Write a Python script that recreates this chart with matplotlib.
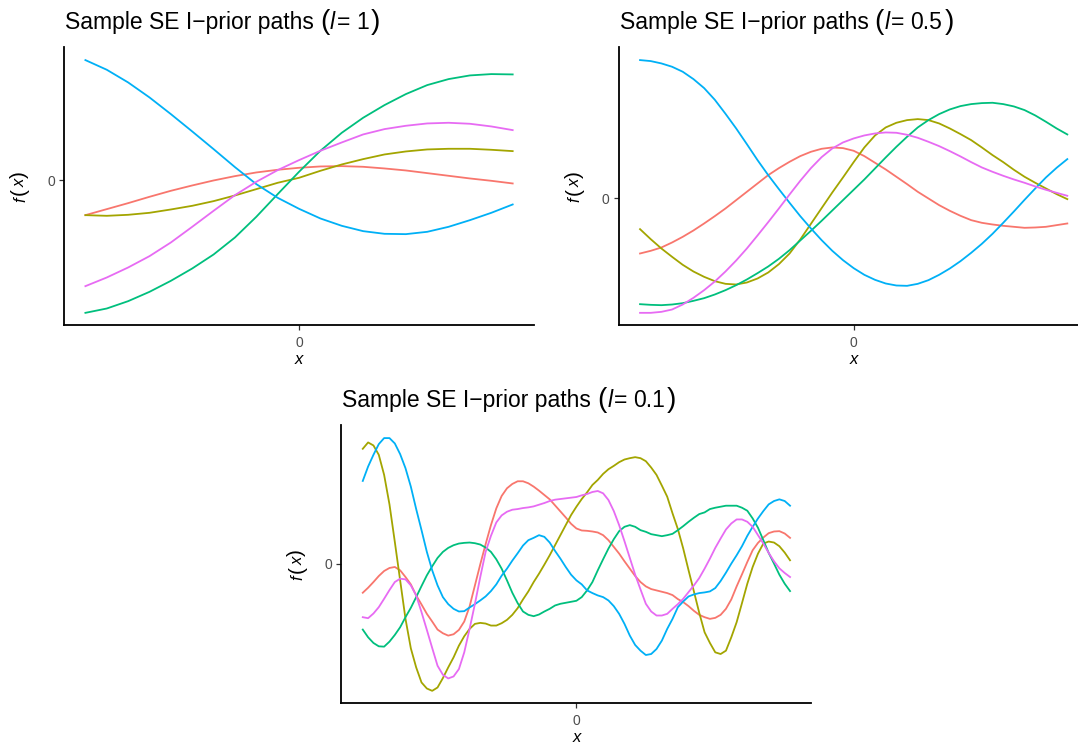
import numpy as np
import matplotlib
matplotlib.use('Agg')
import matplotlib.pyplot as plt
from matplotlib.transforms import ScaledTranslation

plt.rcParams['font.family'] = ['Liberation Sans', 'DejaVu Sans']

# ggplot hue palette, one colour per sample path
colors = ['#F8766D', '#A3A500', '#00BF7D', '#00B0F6', '#E76BF3']

# x grids the paths were read on
x_l1 = np.linspace(-1, 1, 21)
x_l05 = np.linspace(-1, 1, 41)
x_l01 = np.linspace(-1, 1, 81)

# l = 1
l1_red = [-1.05, -0.87, -0.69, -0.50, -0.32, -0.16, -0.01, 0.12, 0.23, 0.31, 0.37,
          0.41, 0.42, 0.40, 0.35, 0.29, 0.21, 0.13, 0.05, -0.02, -0.10]
l1_olive = [-1.05, -1.07, -1.04, -0.98, -0.88, -0.77, -0.63, -0.46, -0.27, -0.08, 0.07,
            0.28, 0.47, 0.63, 0.77, 0.86, 0.92, 0.94, 0.94, 0.91, 0.87]
l1_green = [-3.98, -3.85, -3.63, -3.35, -3.02, -2.65, -2.23, -1.72, -1.10, -0.42, 0.25,
            0.88, 1.42, 1.87, 2.25, 2.58, 2.85, 3.03, 3.14, 3.18, 3.17]
l1_blue = [3.60, 3.31, 2.93, 2.48, 1.98, 1.46, 0.93, 0.39, -0.12, -0.53, -0.86,
           -1.15, -1.37, -1.53, -1.61, -1.62, -1.55, -1.40, -1.20, -0.98, -0.73]
l1_pink = [-3.18, -2.92, -2.62, -2.28, -1.87, -1.40, -0.92, -0.45, -0.05, 0.30, 0.60,
           0.88, 1.13, 1.37, 1.53, 1.63, 1.70, 1.72, 1.69, 1.61, 1.50]

# l = 0.5
l05_red = [-1.65, -1.57, -1.47, -1.32, -1.15, -0.96, -0.75, -0.53, -0.30, -0.05, 0.20,
           0.45, 0.70, 0.91, 1.10, 1.27, 1.40, 1.49, 1.53, 1.51, 1.43,
           1.27, 1.07, 0.87, 0.65, 0.43, 0.20, 0.00, -0.20, -0.37, -0.52,
           -0.65, -0.73, -0.78, -0.82, -0.85, -0.88, -0.87, -0.85, -0.80, -0.75]
l05_olive = [-0.92, -1.22, -1.50, -1.75, -1.99, -2.19, -2.35, -2.48, -2.56, -2.58, -2.52,
             -2.40, -2.22, -1.97, -1.65, -1.23, -0.76, -0.29, 0.18, 0.63, 1.09,
             1.53, 1.89, 2.13, 2.27, 2.35, 2.38, 2.35, 2.25, 2.10, 1.93,
             1.75, 1.53, 1.30, 1.09, 0.86, 0.65, 0.47, 0.30, 0.13, -0.02]
l05_green = [-3.17, -3.19, -3.20, -3.18, -3.14, -3.07, -2.99, -2.88, -2.75, -2.60, -2.43,
             -2.24, -2.04, -1.81, -1.55, -1.26, -0.97, -0.67, -0.36, -0.05, 0.26,
             0.57, 0.90, 1.23, 1.55, 1.85, 2.13, 2.35, 2.53, 2.67, 2.77,
             2.83, 2.86, 2.87, 2.83, 2.76, 2.65, 2.49, 2.30, 2.10, 1.92]
l05_blue = [4.15, 4.12, 4.05, 3.95, 3.80, 3.58, 3.31, 2.96, 2.54, 2.10, 1.63,
            1.15, 0.70, 0.28, -0.13, -0.53, -0.90, -1.25, -1.57, -1.85, -2.09,
            -2.29, -2.44, -2.55, -2.61, -2.62, -2.56, -2.45, -2.29, -2.10, -1.88,
            -1.63, -1.36, -1.06, -0.73, -0.39, -0.04, 0.30, 0.63, 0.92, 1.18]
l05_pink = [-3.43, -3.43, -3.40, -3.33, -3.18, -2.98, -2.75, -2.49, -2.19, -1.86, -1.50,
            -1.11, -0.71, -0.30, 0.12, 0.53, 0.91, 1.24, 1.50, 1.68, 1.80,
            1.89, 1.95, 1.98, 1.97, 1.91, 1.82, 1.70, 1.57, 1.42, 1.26,
            1.09, 0.93, 0.80, 0.68, 0.57, 0.47, 0.36, 0.26, 0.17, 0.08]

# l = 0.1
l01_red = [-0.87, -0.72, -0.55, -0.37, -0.22, -0.13, -0.10, -0.20, -0.40, -0.62,
           -0.95, -1.22, -1.50, -1.73, -1.97, -2.08, -2.15, -2.11, -1.98, -1.73,
           -1.28, -0.65, -0.02, 0.58, 1.15, 1.65, 2.02, 2.25, 2.38, 2.46,
           2.46, 2.40, 2.30, 2.18, 2.05, 1.92, 1.74, 1.56, 1.38, 1.19,
           1.05, 0.99, 0.98, 0.96, 0.93, 0.85, 0.70, 0.50, 0.30, 0.07,
           -0.15, -0.37, -0.55, -0.68, -0.76, -0.80, -0.84, -0.88, -0.94, -1.06,
           -1.15, -1.27, -1.41, -1.53, -1.60, -1.65, -1.62, -1.53, -1.35, -1.07,
           -0.68, -0.32, 0.05, 0.40, 0.62, 0.78, 0.91, 0.96, 0.97, 0.90, 0.77]
l01_olive = [3.43, 3.62, 3.53, 3.25, 2.65, 1.77, 0.65, -0.50, -1.65, -2.53,
             -3.10, -3.55, -3.73, -3.80, -3.70, -3.42, -3.10, -2.80, -2.45, -2.17,
             -1.95, -1.80, -1.77, -1.79, -1.85, -1.85, -1.78, -1.68, -1.53, -1.33,
             -1.07, -0.83, -0.55, -0.30, -0.03, 0.25, 0.55, 0.85, 1.15, 1.45,
             1.70, 1.93, 2.13, 2.35, 2.50, 2.68, 2.82, 2.92, 3.03, 3.11,
             3.15, 3.18, 3.15, 3.06, 2.87, 2.65, 2.33, 2.00, 1.50, 1.03,
             0.45, -0.20, -0.83, -1.47, -2.05, -2.37, -2.65, -2.70, -2.60, -2.20,
             -1.75, -1.18, -0.60, -0.10, 0.30, 0.60, 0.66, 0.63, 0.52, 0.33, 0.10]
l01_green = [-1.97, -2.20, -2.37, -2.47, -2.48, -2.33, -2.13, -1.90, -1.60, -1.32,
             -1.00, -0.67, -0.35, -0.08, 0.17, 0.35, 0.47, 0.55, 0.60, 0.62,
             0.63, 0.61, 0.57, 0.48, 0.35, 0.13, -0.15, -0.50, -0.87, -1.18,
             -1.43, -1.53, -1.57, -1.52, -1.43, -1.35, -1.25, -1.20, -1.17, -1.14,
             -1.11, -1.00, -0.80, -0.55, -0.20, 0.13, 0.45, 0.73, 0.97, 1.10,
             1.15, 1.10, 1.00, 0.95, 0.88, 0.85, 0.82, 0.85, 0.89, 1.00,
             1.12, 1.25, 1.37, 1.48, 1.53, 1.63, 1.67, 1.70, 1.73, 1.73,
             1.73, 1.67, 1.58, 1.35, 1.07, 0.70, 0.32, 0.00, -0.33, -0.60, -0.82]
l01_blue = [2.47, 2.90, 3.25, 3.57, 3.75, 3.75, 3.59, 3.27, 2.85, 2.30,
            1.63, 1.00, 0.35, -0.20, -0.65, -1.00, -1.21, -1.35, -1.43, -1.42,
            -1.31, -1.21, -1.10, -0.98, -0.82, -0.62, -0.36, -0.15, 0.09, 0.31,
            0.54, 0.70, 0.77, 0.85, 0.80, 0.63, 0.38, 0.15, -0.10, -0.33,
            -0.50, -0.62, -0.80, -0.88, -0.95, -1.00, -1.10, -1.27, -1.50, -1.80,
            -2.15, -2.43, -2.60, -2.73, -2.70, -2.55, -2.30, -1.95, -1.65, -1.30,
            -1.13, -0.98, -0.92, -0.88, -0.86, -0.83, -0.73, -0.52, -0.27, 0.00,
            0.25, 0.52, 0.83, 1.10, 1.35, 1.57, 1.77, 1.87, 1.92, 1.87, 1.73]
l01_pink = [-1.60, -1.63, -1.49, -1.30, -1.05, -0.79, -0.55, -0.45, -0.47, -0.65,
            -0.95, -1.45, -1.98, -2.52, -3.05, -3.32, -3.43, -3.37, -3.15, -2.65,
            -1.95, -1.20, -0.40, 0.35, 0.83, 1.23, 1.44, 1.55, 1.61, 1.63,
            1.66, 1.68, 1.71, 1.76, 1.81, 1.87, 1.91, 1.93, 1.95, 1.97,
            1.99, 2.04, 2.08, 2.14, 2.17, 2.10, 1.90, 1.57, 1.15, 0.67,
            0.17, -0.33, -0.77, -1.20, -1.43, -1.55, -1.55, -1.50, -1.35, -1.21,
            -1.05, -0.85, -0.65, -0.43, -0.15, 0.15, 0.47, 0.75, 1.02, 1.20,
            1.32, 1.32, 1.25, 1.10, 0.85, 0.60, 0.32, 0.07, -0.14, -0.28, -0.40]

length_scales = ['1', '0.5', '0.1']

fig = plt.figure(figsize=(10.78, 7.46), dpi=100)
renderer = fig.canvas.get_renderer()


def add_pieces(ax, pieces, x0, y0, dx, dy, vertical=False, center=False):
    # lay out text pieces of mixed size one after another, like plotmath does
    widths = []
    for s, size, style, gap in pieces:
        t = fig.text(0, 0, s, fontsize=size, style=style)
        widths.append(t.get_window_extent(renderer).width / fig.dpi)
        t.remove()
    total = sum(widths) + sum(p[3] for p in pieces[:-1])
    pos = -total / 2 if center else 0.0
    for (s, size, style, gap), w in zip(pieces, widths):
        if vertical:
            off = ScaledTranslation(dx, dy + pos, fig.dpi_scale_trans)
            ax.text(x0, y0, s, fontsize=size, style=style, rotation=90,
                    rotation_mode='anchor', ha='left', va='baseline',
                    transform=ax.transAxes + off)
        else:
            off = ScaledTranslation(dx + pos, dy, fig.dpi_scale_trans)
            ax.text(x0, y0, s, fontsize=size, style=style, ha='left',
                    va='baseline', transform=ax.transAxes + off)
        pos += w + gap


def draw_panel(ax, x, paths, lscale):
    for ys, c in zip(paths, colors):
        ax.plot(x, ys, color=c, lw=1.3)
    ax.margins(x=0.05, y=0.05)
    ax.set_xticks([0])
    ax.set_yticks([0])
    ax.tick_params(length=3.5, width=0.9, color='#333333', labelcolor='#4D4D4D',
                   labelsize=10)
    ax.tick_params(axis='x', pad=4)
    ax.tick_params(axis='y', pad=3)
    for s in ['top', 'right']:
        ax.spines[s].set_visible(False)
    for s in ['left', 'bottom']:
        ax.spines[s].set_linewidth(1.3)

    title = [('Sample SE I\u2212prior paths', 16.5, 'normal', 0.06),
             ('(', 20, 'normal', 0.005),
             ('l', 16.5, 'italic', 0.015),
             ('=', 16.5, 'normal', 0.06),
             (lscale, 16.5, 'normal', 0.02),
             (')', 20, 'normal', 0)]
    add_pieces(ax, title, 0, 1, 0.01, 0.18)

    ylab = [('f', 12, 'italic', 0.02),
            ('(', 15, 'normal', 0.01),
            ('x', 12, 'italic', 0.01),
            (')', 15, 'normal', 0)]
    add_pieces(ax, ylab, 0, 0.5, -0.39, 0, vertical=True, center=True)

    ax.text(0.5, 0, 'x', fontsize=12, style='italic', ha='center', va='baseline',
            transform=ax.transAxes + ScaledTranslation(0, -0.385, fig.dpi_scale_trans))


ax1 = fig.add_axes([0.0594, 0.5637, 0.436, 0.3727])
ax2 = fig.add_axes([0.5739, 0.5637, 0.436, 0.3727])
ax3 = fig.add_axes([0.3167, 0.057, 0.436, 0.3727])

draw_panel(ax1, x_l1, [l1_red, l1_olive, l1_green, l1_blue, l1_pink], length_scales[0])
draw_panel(ax2, x_l05, [l05_red, l05_olive, l05_green, l05_blue, l05_pink], length_scales[1])
draw_panel(ax3, x_l01, [l01_red, l01_olive, l01_green, l01_blue, l01_pink], length_scales[2])

fig.savefig('out.png', dpi=100)
